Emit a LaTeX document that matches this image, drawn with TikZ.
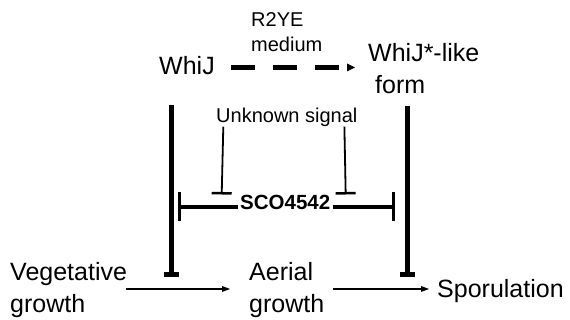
\documentclass[tikz,border=0pt]{standalone}
\usepackage{fontspec}
\setmainfont{Liberation Sans}
\usetikzlibrary{arrows.meta,calc}
\begin{document}
\begin{tikzpicture}[x=1pt,y=-1pt,
  big/.style={inner sep=0pt,font=\fontsize{25}{32}\selectfont,align=left},
  small/.style={inner sep=0pt,font=\fontsize{20}{25}\selectfont,align=left},
  thickinh/.style={line width=4.7pt,-{Rectangle[length=5pt,width=15pt,line width=0pt]}},
  thininh/.style={line width=1.8pt,-{Rectangle[length=2.5pt,width=20pt,line width=0pt]}},
  midinh/.style={line width=3.5pt,-{Rectangle[length=3.5pt,width=29pt,line width=0pt]}},
  thinarrow/.style={line width=1.7pt,-{Triangle[length=8pt,width=6pt,line width=0pt]}},
  dasharrow/.style={line width=5pt,dash pattern=on 23.8pt off 18.4pt,-{Triangle[length=8pt,width=8pt,line width=0pt]}}]
\useasboundingbox (0,0) rectangle (570,320);

% text nodes (base anchor of a multi-line node = baseline of its last line)
\node[big,anchor=base west] (whij) at (159,75) {WhiJ};
\node[big,anchor=base west] (whijstar) at (368,93.3) {WhiJ*-like\\\hspace*{7pt}form};
\node[small,anchor=base west] (medium) at (251,51.7) {R2YE\\medium};
\node[small,anchor=base west] (signal) at (216,122.3) {Unknown signal};
\node[small,font=\fontsize{20.5}{25}\selectfont\bfseries,inner xsep=2.2pt,anchor=base west] (sco) at (237.8,210) {SCO4542};
\node[big,anchor=base west] (veg) at (10,312.3) {Vegetative\\growth};
\node[big,anchor=base west] (aer) at (249,312.3) {Aerial\\growth};
\node[big,anchor=base west] (spo) at (437,297.5) {Sporulation};

% helper coordinates
\coordinate (drow) at (0,67.4);
\coordinate (row) at (0,289);
\coordinate (lT) at (171.7,276.7);
\coordinate (rT) at (407.7,276.7);
\coordinate (sl) at (221.7,194.5);
\coordinate (sr) at (345.7,194.5);
\coordinate (scoL) at (177.5,207);
\coordinate (scoR) at (395,207);

% connectors
\draw[dasharrow,shorten <=16.1pt,shorten >=13pt] (whij.east |- drow) -- (whijstar.west |- drow);
\draw[thickinh,shorten <=30pt] (whij.south -| lT) -- (lT);
\draw[thickinh,shorten <=12pt] (whijstar.south -| rT) -- (rT);
\draw[thininh] ($(signal.south west)+(7.3,0)$) -- (sl);
\draw[thininh] ($(signal.south east)+(-13.2,0)$) -- (sr);
\draw[midinh] (sco.west |- scoL) -- (scoL);
\draw[midinh] (sco.east |- scoR) -- (scoR);
\draw[thinarrow,shorten <=-1.4pt,shorten >=19pt] (veg.east |- row) -- (aer.west |- row);
\draw[thinarrow,shorten <=9pt,shorten >=8pt] (aer.east |- row) -- (spo.west |- row);
\end{tikzpicture}
\end{document}
